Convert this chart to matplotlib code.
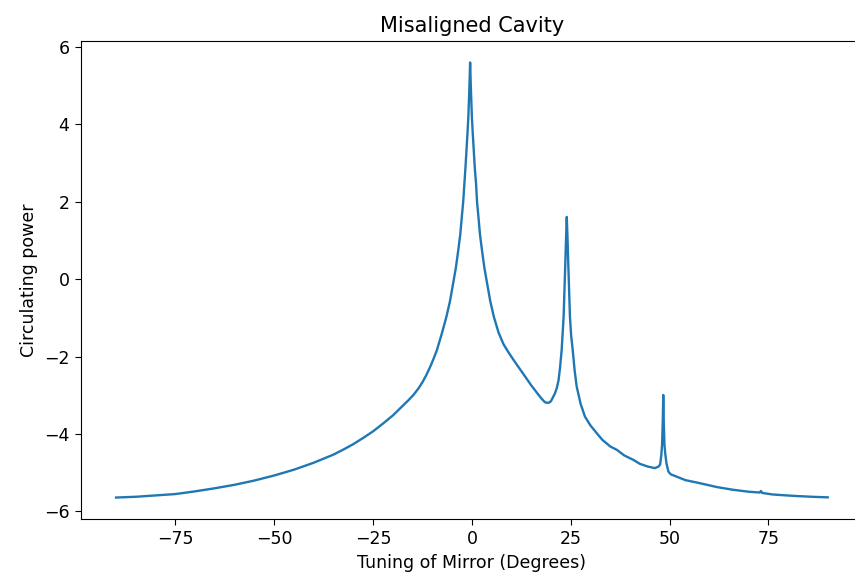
import matplotlib
matplotlib.use("Agg")
import matplotlib.pyplot as plt

# Tuning of mirror (degrees) and circulating power
tuning = [
    -90, -85, -80, -75, -70, -65, -60, -55, -50, -45, -40, -35, -32.5, -30,
    -27.5, -25, -22.5, -20, -18, -16, -14.8, -13.5, -12.45, -11.5, -10.45,
    -9.6, -8.85, -7.65, -6.45, -5.55, -4.75, -4.05, -3.45, -2.95, -2.55,
    -2.2, -1.9, -1.65, -1.37, -1.1, -0.9, -0.65, -0.45, -0.25, 0.0, 0.2,
    0.47, 0.75, 1.05, 1.3, 1.65, 2.05, 2.55, 3.15, 3.85, 4.65, 5.55, 6.75,
    8.0, 9.2, 10.5, 12, 13.5, 15, 16.5, 17.5, 18.2, 18.7, 19.5, 20, 21,
    21.5, 21.9, 22.3, 22.7, 23.2, 23.6, 23.8, 24.0, 24.2, 24.4, 24.8, 25.1,
    25.5, 26.0, 26.5, 27.5, 28.6, 30, 31.6, 33, 35, 36.7, 38.5, 40.9, 42.5,
    44.5, 46.3, 47.2, 47.6, 47.9, 48.1, 48.3, 48.4, 48.5, 48.7, 48.9, 49.2,
    49.7, 50.3, 51.8, 54, 57.7, 62, 66.1, 70, 72.8, 73.1, 73.4, 76, 78.8,
    82, 86, 90,
]
power = [
    -5.64, -5.62, -5.585, -5.55, -5.48, -5.40, -5.31, -5.20, -5.07, -4.92,
    -4.74, -4.53, -4.40, -4.26, -4.10, -3.93, -3.73, -3.52, -3.32, -3.12,
    -2.99, -2.82, -2.65, -2.47, -2.24, -2.03, -1.83, -1.42, -0.97, -0.57,
    -0.11, 0.30, 0.75, 1.15, 1.61, 2.00, 2.47, 2.85, 3.33, 3.80, 4.19, 4.90,
    5.60, 4.90, 4.19, 3.80, 3.33, 2.85, 2.47, 2.00, 1.61, 1.15, 0.75, 0.30,
    -0.11, -0.57, -0.97, -1.38, -1.68, -1.88, -2.08, -2.30, -2.52, -2.74,
    -2.94, -3.07, -3.15, -3.19, -3.19, -3.15, -2.95, -2.80, -2.62, -2.28,
    -1.83, -0.97, 0.32, 1.00, 1.61, 1.00, 0.32, -0.97, -1.45, -1.83, -2.37,
    -2.77, -3.22, -3.55, -3.78, -3.98, -4.15, -4.32, -4.41, -4.55, -4.67,
    -4.77, -4.84, -4.88, -4.84, -4.79, -4.55, -4.28, -3.59, -2.99, -3.59,
    -4.28, -4.50, -4.75, -4.97, -5.04, -5.10, -5.19, -5.27, -5.37, -5.44,
    -5.49, -5.51, -5.47, -5.52, -5.56, -5.58, -5.60, -5.62, -5.635,
]

plt.rcParams['font.family'] = ['DejaVu Sans']
plt.rcParams['font.size'] = 12.5

fig = plt.figure(figsize=(8.55, 5.76), dpi=100)
ax = fig.add_axes([80.5 / 855, (576 - 519.3) / 576, (863.3 - 80.5) / 855, (519.3 - 40.7) / 576])
ax.plot(tuning, power, color='#1f77b4', linewidth=1.7)
ax.set_title("Misaligned Cavity")
ax.set_xlabel("Tuning of Mirror (Degrees)")
ax.set_ylabel("Circulating power")
ax.set_xticks([-75, -50, -25, 0, 25, 50, 75])
ax.set_yticks([-6, -4, -2, 0, 2, 4, 6])
ax.tick_params(length=4.5)

fig.savefig("out.png", dpi=100)
